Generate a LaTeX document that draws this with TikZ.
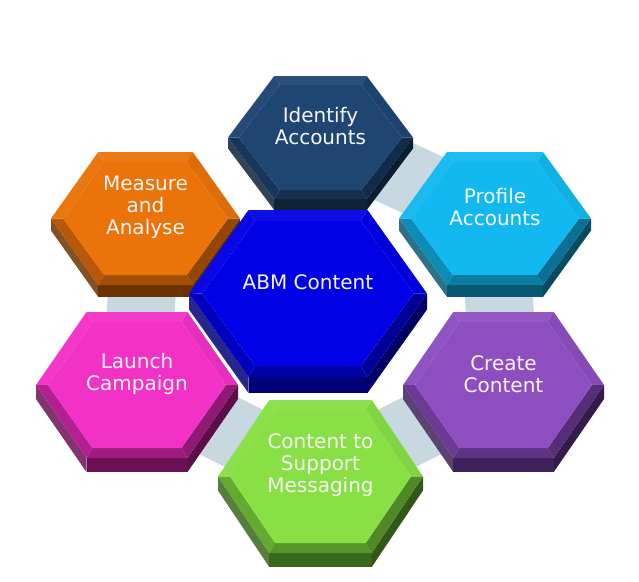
\documentclass[tikz,border=0pt]{standalone}
\usepackage{fontspec}
\setmainfont{DejaVu Sans}
\usepackage{xcolor}
\usetikzlibrary{calc}

\definecolor{bandgray}{RGB}{200,216,224}
\definecolor{idface}{RGB}{31,69,115}
\definecolor{idlow}{RGB}{24,54,92}
\definecolor{idside}{RGB}{14,34,58}
\definecolor{abmface}{RGB}{0,0,230}
\definecolor{abmlow}{RGB}{0,0,190}
\definecolor{abmside}{RGB}{0,0,120}
\definecolor{proface}{RGB}{18,185,240}
\definecolor{prolow}{RGB}{14,140,184}
\definecolor{proside}{RGB}{8,88,115}
\definecolor{creface}{RGB}{141,79,192}
\definecolor{crelow}{RGB}{108,58,148}
\definecolor{creside}{RGB}{62,32,90}
\definecolor{supface}{RGB}{136,224,69}
\definecolor{suplow}{RGB}{100,170,48}
\definecolor{supside}{RGB}{58,104,26}
\definecolor{lauface}{RGB}{242,49,198}
\definecolor{laulow}{RGB}{180,32,145}
\definecolor{lauside}{RGB}{108,16,85}
\definecolor{meaface}{RGB}{234,115,10}
\definecolor{mealow}{RGB}{184,88,8}
\definecolor{measide}{RGB}{108,50,0}

\tikzset{
  band/.style={draw=bandgray, line width=68pt, line join=round},
  hextext/.style={align=center, text=white!96!black, inner sep=0pt,
    font=\fontsize{20}{22}\selectfont},
}

% #1 centre, #2 half width, #3 half height, #4 depth, #5 bevel,
% #6 face, #7 lower bevel, #8 side
\newcommand\hexprism[8]{%
  \begin{scope}[shift={(#1)}]
    \coordinate (oL)  at (-#2,0);
    \coordinate (oTL) at (-#2/2,-#3);
    \coordinate (oTR) at (#2/2,-#3);
    \coordinate (oR)  at (#2,0);
    \coordinate (oBR) at (#2/2,#3);
    \coordinate (oBL) at (-#2/2,#3);
    \coordinate (iL)  at (-#2+1.2*#5,0);
    \coordinate (iTL) at (-#2/2+0.6*#5,-#3+#5);
    \coordinate (iTR) at (#2/2-0.6*#5,-#3+#5);
    \coordinate (iR)  at (#2-1.2*#5,0);
    \coordinate (iBR) at (#2/2-0.6*#5,#3-#5);
    \coordinate (iBL) at (-#2/2+0.6*#5,#3-#5);
    % extrusion
    \fill[#8!85!white] (oL) -- (oBL) -- ($(oBL)+(0,#4)$) -- ($(oL)+(0,#4)$) -- cycle;
    \fill[#8] (oBL) -- (oBR) -- ($(oBR)+(0,#4)$) -- ($(oBL)+(0,#4)$) -- cycle;
    \fill[#8!85!black] (oBR) -- (oR) -- ($(oR)+(0,#4)$) -- ($(oBR)+(0,#4)$) -- cycle;
    % bevel
    \fill[#6!95!white] (oTL) -- (oTR) -- (iTR) -- (iTL) -- cycle;
    \fill[#6!97!white] (oL) -- (oTL) -- (iTL) -- (iL) -- cycle;
    \fill[#6!95!black] (oTR) -- (oR) -- (iR) -- (iTR) -- cycle;
    \fill[#7] (oL) -- (iL) -- (iBL) -- (oBL) -- cycle;
    \fill[#7!88!black] (oBL) -- (iBL) -- (iBR) -- (oBR) -- cycle;
    \fill[#7!80!black] (oR) -- (oBR) -- (iBR) -- (iR) -- cycle;
    % face
    \fill[#6] (iL) -- (iTL) -- (iTR) -- (iR) -- (iBR) -- (iBL) -- cycle;
  \end{scope}}

\begin{document}
\begin{tikzpicture}[x=1pt,y=-1pt]
	\useasboundingbox (0,0) rectangle (639,581);
	\coordinate (identify) at (320.5,137.5);
	\coordinate (profile)  at (495,218.5);
	\coordinate (create)   at (503.5,385);
	\coordinate (support)  at (320.5,476.5);
	\coordinate (launch)   at (137,385);
	\coordinate (measure)  at (145.5,218.5);
	\coordinate (abm)      at (308,293.5);

	\draw[band] (identify) -- (profile) -- (create) -- (support) -- (launch) -- (measure);

	\hexprism{identify}{92.5}{61.5}{11}{9}{idface}{idlow}{idside}
	\hexprism{profile}{96}{66.5}{12}{10}{proface}{prolow}{proside}
	\hexprism{create}{100.5}{73}{14}{10}{creface}{crelow}{creside}
	\hexprism{support}{102.5}{76.5}{14}{10}{supface}{suplow}{supside}
	\hexprism{launch}{101}{73}{14}{10}{lauface}{laulow}{lauside}
	\hexprism{measure}{94.5}{66.5}{12}{10}{meaface}{mealow}{measide}
	\hexprism{abm}{119}{83.5}{16}{11}{abmface}{abmlow}{abmside}

	\node[hextext, yshift=11pt] (identify-text) at (identify) {Identify\\Accounts};
	\node[hextext, yshift=11pt] (profile-text) at (profile) {Profile\\Accounts};
	\node[hextext, yshift=11pt] (create-text) at (create) {Create\\Content};
	\node[hextext, yshift=11pt] (support-text) at (support) {Content to\\Support\\Messaging};
	\node[hextext, yshift=11pt] (launch-text) at (launch) {Launch\\Campaign};
	\node[hextext, yshift=11pt] (measure-text) at (measure) {Measure\\and\\Analyse};
	\node[hextext, yshift=11pt] (abm-text) at (abm) {ABM Content};
	
\end{tikzpicture}
\end{document}
